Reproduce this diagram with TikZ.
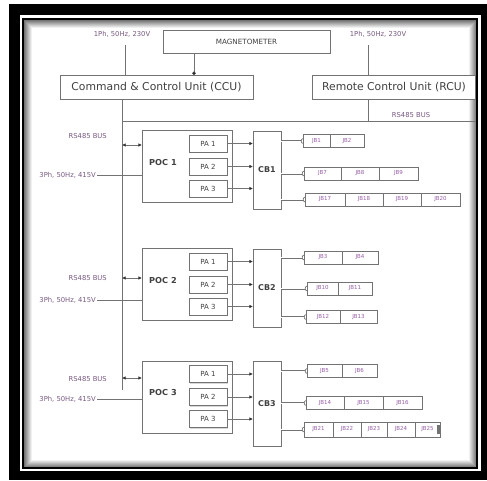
\documentclass[tikz,border=0pt]{standalone}
\usepackage{fontspec}
\setmainfont{DejaVu Sans}
\usetikzlibrary{arrows.meta,shadows}
\definecolor{ln}{RGB}{115,115,115}
\definecolor{tx}{RGB}{65,65,65}
\definecolor{pu}{RGB}{120,90,130}
\definecolor{jbc}{RGB}{150,95,165}
\begin{document}
\begin{tikzpicture}[x=1pt,y=-1pt,
  box/.style={draw=ln, line width=0.8pt, fill=white, inner sep=0pt, outer sep=0pt, text=tx},
  pocbox/.style={box, minimum width=90pt, minimum height=72pt},
  pabox/.style={box, minimum width=38pt, minimum height=17pt, font=\fontsize{7}{8}\selectfont,
     drop shadow={shadow xshift=0.8pt, shadow yshift=-1.3pt, fill=black!30, draw=none}},
  cbbox/.style={box, minimum width=28pt, font=\bfseries\fontsize{8}{9}\selectfont},
  jb/.style={box, minimum height=13pt, anchor=west, text=jbc, font=\fontsize{5.5}{6}\selectfont},
  lbl/.style={text=pu, inner sep=0pt, font=\fontsize{6.8}{8}\selectfont},
  big/.style={font=\fontsize{10.8}{12}\selectfont},
  wire/.style={draw=ln, line width=0.7pt},
  tip/.style={wire, -{Latex[length=3.6pt,width=3.4pt,color=black!80]}},
  conn/.style={draw=black!55, line width=0.6pt, double=white, double distance=0.8pt,
     -{Arc Barb[reversed,length=2.2pt,width=5.5pt,line width=0.7pt]}}
]
\useasboundingbox (0,0) rectangle (487,480);
\fill[white] (0,0) rectangle (487,480);
% frame
\fill[black] (9,4) rectangle (487,480);
\fill[white] (20,15) rectangle (481,471);
\foreach \i in {1,...,9}{
  \pgfmathtruncatemacro\p{max(0,62-7*\i)}
  \draw[black!\p, line width=1pt] (23+\i,19+\i) rectangle (477-\i,468-\i);
}
\draw[black, line width=1.6pt] (23,19) rectangle (477,468);

% top units
\node[box, minimum width=167pt, minimum height=23pt, font=\fontsize{7.2}{8}\selectfont] (mag) at (246.5,41.5) {MAGNETOMETER};
\node[box, big, minimum width=193pt, minimum height=24pt] (ccu) at (156.5,87) {Command \& Control Unit (CCU)};
\node[box, big, minimum width=163pt, minimum height=24pt] (rcu) at (394,87) {Remote Control Unit (RCU)};
\node[lbl] (p1) at (122,34) {1Ph, 50Hz, 230V};
\node[lbl] (p2) at (378,34) {1Ph, 50Hz, 230V};
\coordinate (p1b) at (125,45);
\coordinate (p2b) at (368,45);
\draw[wire] (p1b) -- (p1b |- ccu.north);
\draw[wire] (p2b) -- (p2b |- rcu.north);
\coordinate (mx) at (194,0);
\draw[wire, -{Circle[length=3.6pt,color=black!80]}] (mag.south -| mx) -- (ccu.north -| mx);

% bus
\coordinate (bx) at (122,121);
\coordinate (bright) at (476,121);
\coordinate (bend) at (122,390);
\draw[wire] (ccu.south -| bx) -- (bend);
\draw[wire] (bx) -- (bright);
\draw[wire] (rcu.south -| p2b) -- (bright -| p2b);
\node[lbl] (rsb) at (411,115) {RS485 BUS};

% POC / CB blocks
\foreach \n/\c/\rs/\rl/\ph/\cbc/\cbh in {1/166.5/145/136/175/170/78, 2/284.5/278/278/300/288/78, 3/397/378/379/399/403.5/85}{
  \node[pocbox] (poc\n) at (187,\c) {};
  \node[text=tx, inner sep=0pt, font=\bfseries\fontsize{8.2}{9}\selectfont] (poct\n) at (163,{\c-4}) {POC \n};
  \node[pabox] (pa\n a) at (208,{\c-23}) {PA 1};
  \node[pabox] (pa\n b) at (208,{\c}) {PA 2};
  \node[pabox] (pa\n c) at (208,{\c+22}) {PA 3};
  \node[cbbox, minimum height=\cbh pt] (cb\n) at (267,\cbc) {CB\n};
  \draw[tip] (pa\n a.east) -- (pa\n a.east -| cb\n.west);
  \draw[tip] (pa\n b.east) -- (pa\n b.east -| cb\n.west);
  \draw[tip] (pa\n c.east) -- (pa\n c.east -| cb\n.west);
  \coordinate (rs\n) at (122,\rs);
  \draw[wire, {Latex[length=3.6pt,width=3.4pt,color=black!80]}-{Latex[length=3.6pt,width=3.4pt,color=black!80]}] (rs\n) -- (rs\n -| poc\n.west);
  \node[lbl, anchor=east] (rsl\n) at (107,\rl) {RS485 BUS};
  \node[lbl, anchor=east] (ph\n) at (96,\ph) {3Ph, 50Hz, 415V};
  \draw[wire] (ph\n.east) ++(1,0) -- (ph\n.east -| poc\n.west);
}

% JB rows, CB1
\node[jb, minimum width=27pt] (jb1) at (303,141) {JB1};
\node[jb, minimum width=34pt] (jb2) at (jb1.east) {JB2};
\node[jb, minimum width=37pt] (jb7) at (304,173.5) {JB7};
\node[jb, minimum width=38pt] (jb8) at (jb7.east) {JB8};
\node[jb, minimum width=39pt] (jb9) at (jb8.east) {JB9};
\node[jb, minimum width=40pt] (jb17) at (305,199.5) {JB17};
\node[jb, minimum width=38pt] (jb18) at (jb17.east) {JB18};
\node[jb, minimum width=38pt] (jb19) at (jb18.east) {JB19};
\node[jb, minimum width=39pt] (jb20) at (jb19.east) {JB20};
% CB2
\node[jb, minimum width=38pt] (jb3) at (304,257.5) {JB3};
\node[jb, minimum width=36pt] (jb4) at (jb3.east) {JB4};
\node[jb, minimum width=31pt] (jb10) at (307,288.5) {JB10};
\node[jb, minimum width=34pt] (jb11) at (jb10.east) {JB11};
\node[jb, minimum width=34pt] (jb12) at (306,317) {JB12};
\node[jb, minimum width=37pt] (jb13) at (jb12.east) {JB13};
% CB3
\node[jb, minimum width=35pt] (jb5) at (307,371) {JB5};
\node[jb, minimum width=35pt] (jb6) at (jb5.east) {JB6};
\node[jb, minimum width=38pt] (jb14) at (306,403) {JB14};
\node[jb, minimum width=39pt] (jb15) at (jb14.east) {JB15};
\node[jb, minimum width=39pt] (jb16) at (jb15.east) {JB16};
\node[jb, minimum width=29pt, minimum height=15pt] (jb21) at (304,429.5) {JB21};
\node[jb, minimum width=28pt, minimum height=15pt] (jb22) at (jb21.east) {JB22};
\node[jb, minimum width=26pt, minimum height=15pt] (jb23) at (jb22.east) {JB23};
\node[jb, minimum width=28pt, minimum height=15pt] (jb24) at (jb23.east) {JB24};
\node[jb, minimum width=25pt, minimum height=15pt] (jb25) at (jb24.east) {JB25};
\fill[black!55] ([xshift=-3pt,yshift=5pt]jb25.east) rectangle ([xshift=-0.5pt,yshift=-4pt]jb25.east);

% CB to JB connectors
\foreach \c/\j in {1/jb1, 1/jb7, 1/jb17, 2/jb3, 2/jb10, 2/jb12, 3/jb5, 3/jb14, 3/jb21}{
  \draw[conn] (cb\c.east |- \j.west) -- (\j.west);
}
\end{tikzpicture}
\end{document}
